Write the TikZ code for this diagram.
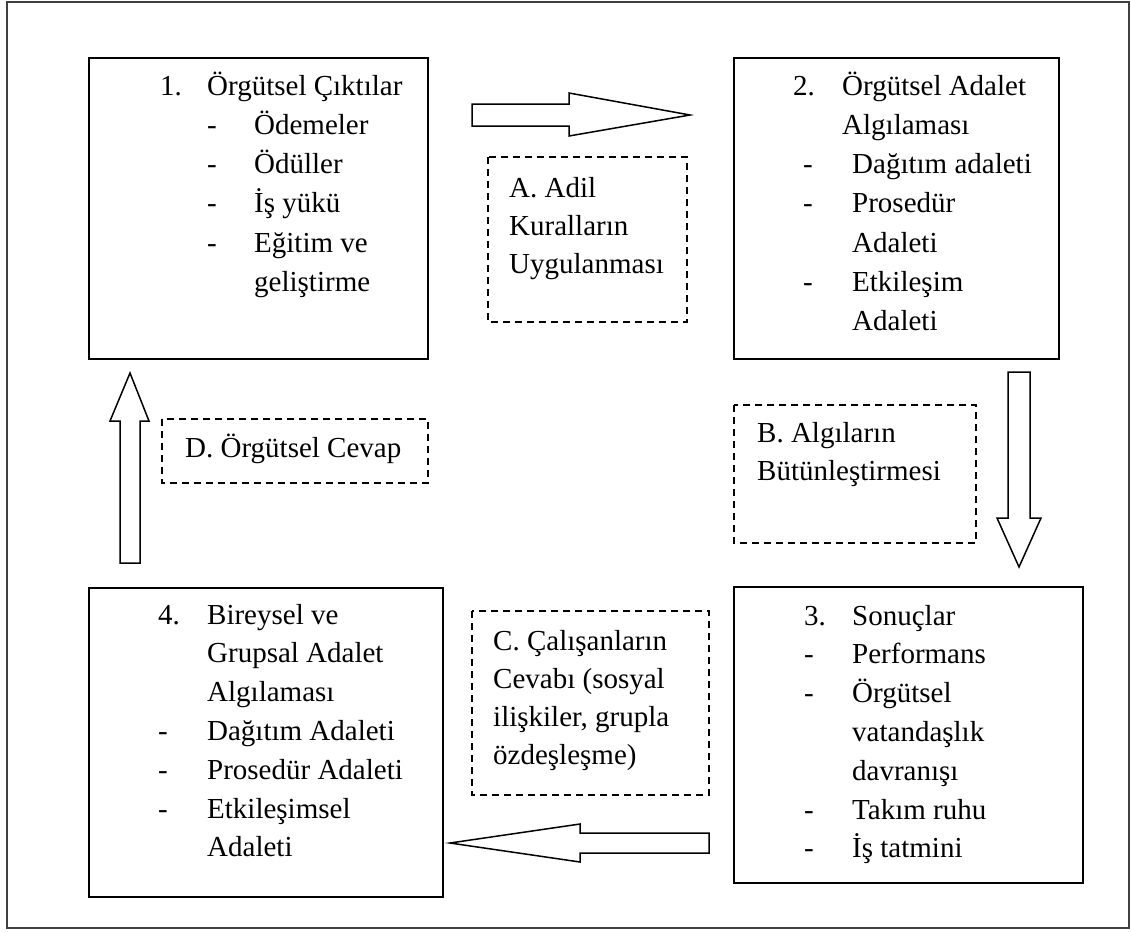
\documentclass[tikz,border=0pt]{standalone}
\usepackage{fontspec}
\setmainfont{Liberation Serif}
\begin{document}
\begin{tikzpicture}[x=1pt,y=-1pt,
  solidbox/.style={draw=black,line width=1.6pt},
  dashbox/.style={draw=black,line width=1.6pt,dash pattern=on 7pt off 5pt},
  frame/.style={draw=black!75,line width=1.8pt},
  blockarrow/.style={draw=black,line width=1.5pt,fill=white,line join=miter},
  txtA/.style={inner sep=0pt,anchor=base west,align=left,font=\fontsize{29}{39.3}\selectfont},
  txtB/.style={inner sep=0pt,anchor=base west,align=left,font=\fontsize{29}{38.8}\selectfont},
  txtC/.style={inner sep=0pt,anchor=base west,align=left,font=\fontsize{29}{38.3}\selectfont}]
\useasboundingbox (0,0) rectangle (1131,932);
\draw[frame] (7,2) rectangle (1129,928);

% main boxes
\draw[solidbox] (89,58) rectangle (428,359);
\coordinate (b1) at (89,58);
\draw[solidbox] (734,58) rectangle (1059,359);
\draw[solidbox] (734,587) rectangle (1083,883);
\draw[solidbox] (89,588) rectangle (443,897);

% texts of main boxes
\node[txtA] (t1) at (160,95) {\begin{tabular}[t]{@{}l@{}}
\makebox[47pt][l]{1.}Örgütsel Çıktılar\\
\hspace*{47pt}\makebox[47pt][l]{-}Ödemeler\\
\hspace*{47pt}\makebox[47pt][l]{-}Ödüller\\
\hspace*{47pt}\makebox[47pt][l]{-}İş yükü\\
\hspace*{47pt}\makebox[47pt][l]{-}Eğitim ve\\
\hspace*{94pt}geliştirme
\end{tabular}};

\node[txtA] (t2) at (793,95) {\begin{tabular}[t]{@{}l@{}}
\makebox[49pt][l]{2.}Örgütsel Adalet\\
\hspace*{49pt}Algılaması\\
\hspace*{10pt}\makebox[49pt][l]{-}Dağıtım adaleti\\
\hspace*{10pt}\makebox[49pt][l]{-}Prosedür\\
\hspace*{59pt}Adaleti\\
\hspace*{10pt}\makebox[49pt][l]{-}Etkileşim\\
\hspace*{59pt}Adaleti
\end{tabular}};

\node[txtB] (t3) at (804,625) {\begin{tabular}[t]{@{}l@{}}
\makebox[48pt][l]{3.}Sonuçlar\\
\makebox[48pt][l]{-}Performans\\
\makebox[48pt][l]{-}Örgütsel\\
\hspace*{48pt}vatandaşlık\\
\hspace*{48pt}davranışı\\
\makebox[48pt][l]{-}Takım ruhu\\
\makebox[48pt][l]{-}İş tatmini
\end{tabular}};

\node[txtB] (t4) at (158,624) {\begin{tabular}[t]{@{}l@{}}
\makebox[49pt][l]{4.}Bireysel ve\\
\hspace*{49pt}Grupsal Adalet\\
\hspace*{49pt}Algılaması\\
\makebox[49pt][l]{-}Dağıtım Adaleti\\
\makebox[49pt][l]{-}Prosedür Adaleti\\
\makebox[49pt][l]{-}Etkileşimsel\\
\hspace*{49pt}Adaleti
\end{tabular}};

% dashed boxes
\draw[dashbox] (488,157) rectangle (687,322);
\node[txtC] (ta) at (509,197) {\begin{tabular}[t]{@{}l@{}}A. Adil\\ Kuralların\\ Uygulanması\end{tabular}};
\draw[dashbox] (734,405) rectangle (976,543);
\node[txtC] (tb) at (757,442) {\begin{tabular}[t]{@{}l@{}}B. Algıların\\ Bütünleştirmesi\end{tabular}};
\draw[dashbox] (472,611) rectangle (709,795);
\node[txtC] (tc) at (493,650) {\begin{tabular}[t]{@{}l@{}}C. Çalışanların\\ Cevabı (sosyal\\ ilişkiler, grupla\\ özdeşleşme)\end{tabular}};
\draw[dashbox] (162,419) rectangle (428,483);
\node[txtC] (td) at (185,457) {D. Örgütsel Cevap};

% block arrows
\draw[blockarrow] (472,104) -- (569,104) -- (569,93) -- (690,115) -- (569,136) -- (569,126) -- (472,126) -- cycle;
\draw[blockarrow] (1008,372) -- (1030,372) -- (1030,518) -- (1041,518) -- (1019,567) -- (997,518) -- (1008,518) -- cycle;
\draw[blockarrow] (709,833) -- (580,833) -- (580,824) -- (450,843) -- (580,862) -- (580,853) -- (709,853) -- cycle;
\draw[blockarrow] (120,563) -- (120,421) -- (110,421) -- (130,373) -- (149,421) -- (140,421) -- (140,563) -- cycle;
\end{tikzpicture}
\end{document}
